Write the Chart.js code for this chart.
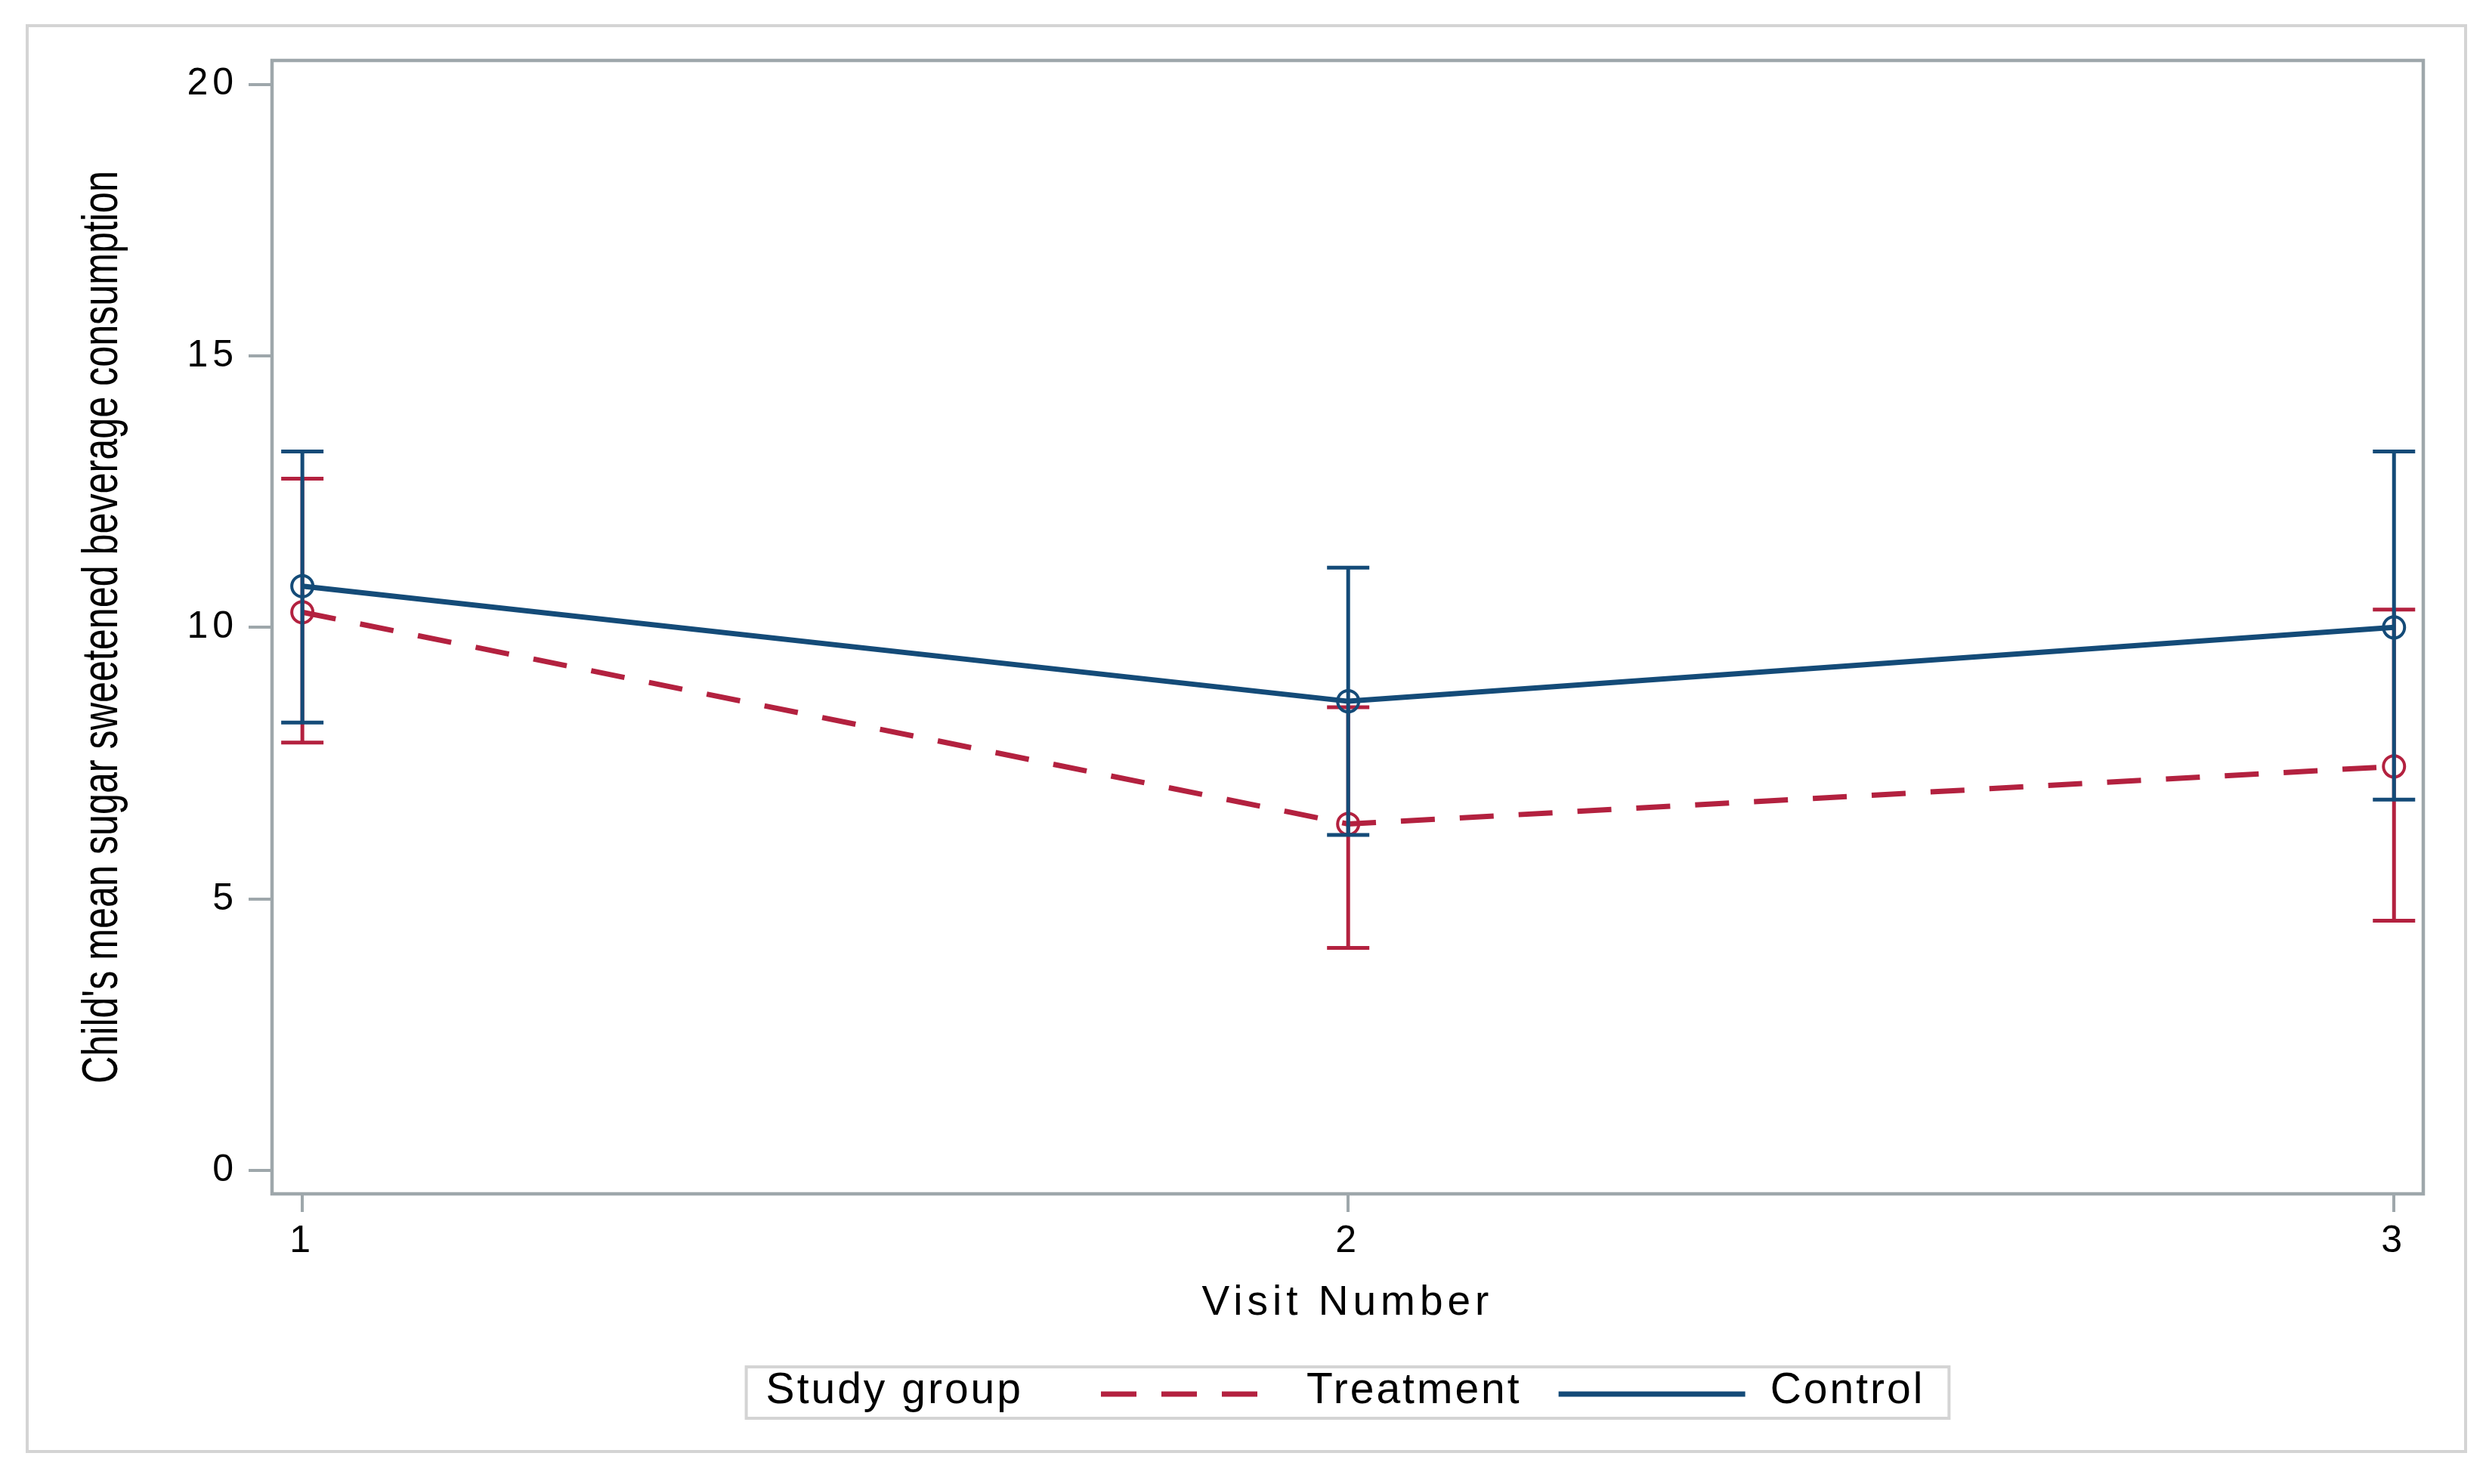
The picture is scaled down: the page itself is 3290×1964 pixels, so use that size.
<!DOCTYPE html>
<html>
<head>
<meta charset="utf-8">
<script src="https://cdn.jsdelivr.net/npm/chart.js@4.4.1/dist/chart.umd.min.js"></script>
<style>
html, body { margin: 0; padding: 0; background: #fff; }
#wrap { width: 3290px; height: 1964px; }
</style>
</head>
<body>
<div id="wrap"><canvas id="myChart" width="3290" height="1964"></canvas></div>
<script>
// values
var visits = [1, 2, 3];
var xTicks = [1, 2, 3];
var yTicks = [0, 5, 10, 15, 20];

var treatMean  = [10.28, 6.38, 7.44];
var treatLower = [7.88, 4.10, 4.60];
var treatUpper = [12.74, 8.53, 10.33];

var controlMean  = [10.76, 8.64, 10.00];
var controlLower = [8.25, 6.18, 6.83];
var controlUpper = [13.24, 11.10, 13.24];

var groupTitle = 'Study group';
var groupNames = ['Treatment', 'Control'];
var xTitle = 'Visit Number';
var yTitle = "Child's mean sugar sweetened beverage consumption";

var red = '#b3213f';
var blue = '#144b78';
var axisGray = '#9ea7ab';
var frameGray = '#d4d4d4';
var fontName = "'Liberation Sans', Arial, sans-serif";

function toPoints(xs, ys) {
    return xs.map(function (x, i) { return { x: x, y: ys[i] }; });
}

// outer frame, plot box, rotated y title and the legend
var decorations = {
    id: 'decorations',
    beforeDraw: function (chart) {
        var ctx = chart.ctx;
        ctx.letterSpacing = '6px';
        ctx.save();
        ctx.fillStyle = '#fff';
        ctx.fillRect(0, 0, chart.width, chart.height);
        ctx.strokeStyle = frameGray;
        ctx.lineWidth = 4;
        ctx.strokeRect(36, 34, 3227, 1887);
        ctx.restore();
    },
    beforeDatasetsDraw: function (chart) {
        var ctx = chart.ctx, a = chart.chartArea;
        ctx.save();
        ctx.strokeStyle = axisGray;
        ctx.lineWidth = 4.5;
        ctx.strokeRect(a.left, a.top, a.right - a.left, a.bottom - a.top);
        ctx.restore();
    },
    afterDraw: function (chart) {
        var ctx = chart.ctx, a = chart.chartArea;

        // y title (condensed like the original)
        ctx.save();
        ctx.translate(155, (a.top + a.bottom) / 2);
        ctx.rotate(-Math.PI / 2);
        ctx.scale(0.75, 1);
        ctx.letterSpacing = '0px';
        ctx.font = '67px ' + fontName;
        ctx.fillStyle = '#000';
        ctx.textAlign = 'center';
        ctx.textBaseline = 'alphabetic';
        ctx.fillText(yTitle, 0, 0);
        ctx.restore();

        // legend
        ctx.save();
        ctx.font = '57px ' + fontName;
        ctx.letterSpacing = '3px';
        ctx.fillStyle = '#000';
        ctx.textAlign = 'left';
        ctx.textBaseline = 'middle';
        var wS = ctx.measureText(groupTitle).width;
        var wT = ctx.measureText(groupNames[0]).width;
        var wC = ctx.measureText(groupNames[1]).width;
        var total = 26 + wS + 103 + 207 + 65 + wT + 49 + 247 + 33 + wC + 32;
        var left = (a.left + a.right) / 2 - total / 2;
        var top = 1809, bottom = 1877, ty = 1841, ly = 1845;
        ctx.strokeStyle = frameGray;
        ctx.lineWidth = 4;
        ctx.strokeRect(left, top, total, bottom - top);
        var x = left + 26;
        ctx.fillText(groupTitle, x, ty);
        x += wS + 103;
        ctx.strokeStyle = red;
        ctx.lineWidth = 7;
        ctx.setLineDash([47, 33]);
        ctx.beginPath(); ctx.moveTo(x, ly); ctx.lineTo(x + 207, ly); ctx.stroke();
        x += 207 + 65;
        ctx.fillText(groupNames[0], x, ty);
        x += wT + 49;
        ctx.strokeStyle = blue;
        ctx.setLineDash([]);
        ctx.beginPath(); ctx.moveTo(x, ly); ctx.lineTo(x + 247, ly); ctx.stroke();
        x += 247 + 33;
        ctx.fillText(groupNames[1], x, ty);
        ctx.restore();
    }
};

// confidence-interval whiskers, drawn just before each series
var errorBars = {
    id: 'errorBars',
    beforeDatasetDraw: function (chart, args) {
        var ds = chart.data.datasets[args.index];
        var xs = chart.scales.x, ys = chart.scales.y, ctx = chart.ctx;
        ctx.save();
        ctx.strokeStyle = ds.borderColor;
        ctx.lineWidth = 5;
        ctx.setLineDash([]);
        ds.data.forEach(function (p, i) {
            var px = xs.getPixelForValue(p.x);
            var top = ys.getPixelForValue(ds.upper[i]);
            var bot = ys.getPixelForValue(ds.lower[i]);
            ctx.beginPath();
            ctx.moveTo(px, top); ctx.lineTo(px, bot);
            ctx.moveTo(px - 28, top); ctx.lineTo(px + 28, top);
            ctx.moveTo(px - 28, bot); ctx.lineTo(px + 28, bot);
            ctx.stroke();
        });
        ctx.restore();
    }
};

function createGraph() {
    var ctx = document.getElementById('myChart').getContext('2d');

    var myChart = new Chart(ctx, {
        type: 'line',
        data: {
            datasets: [{
                label: groupNames[1],
                data: toPoints(visits, controlMean),
                lower: controlLower,
                upper: controlUpper,
                borderColor: blue,
                borderWidth: 7,
                pointStyle: 'circle',
                pointRadius: 14,
                pointBorderWidth: 4,
                pointBorderColor: blue,
                pointBackgroundColor: 'rgba(0,0,0,0)',
                tension: 0,
                fill: false,
                clip: false
            }, {
                label: groupNames[0],
                data: toPoints(visits, treatMean),
                lower: treatLower,
                upper: treatUpper,
                borderColor: red,
                borderWidth: 7,
                borderDash: [45, 33],
                pointStyle: 'circle',
                pointRadius: 14,
                pointBorderWidth: 4,
                pointBorderColor: red,
                pointBackgroundColor: 'rgba(0,0,0,0)',
                tension: 0,
                fill: false,
                clip: false
            }]
        },
        options: {
            responsive: false,
            maintainAspectRatio: false,
            animation: false,
            devicePixelRatio: 1,
            layout: { padding: { left: 0, top: 80, right: 83, bottom: 184 } },
            plugins: {
                legend: { display: false },
                tooltip: { enabled: false }
            },
            scales: {
                x: {
                    type: 'linear',
                    min: 0.971,
                    max: 3.028,
                    afterBuildTicks: function (s) { s.ticks = xTicks.map(function (v) { return { value: v }; }); },
                    afterFit: function (s) { s.height = 200; },
                    border: { display: false },
                    grid: { display: true, drawOnChartArea: false, drawTicks: true, tickLength: 24, color: axisGray, lineWidth: 4 },
                    ticks: { color: '#000', font: { family: fontName, size: 50 }, padding: 9, maxRotation: 0, autoSkip: false },
                    title: { display: true, text: xTitle, color: '#000', font: { family: fontName, size: 55 }, padding: { top: 0, bottom: 22 } }
                },
                y: {
                    min: -0.43,
                    max: 20.44,
                    afterBuildTicks: function (s) { s.ticks = yTicks.map(function (v) { return { value: v }; }); },
                    afterFit: function (s) { s.width = 360; },
                    border: { display: false },
                    grid: { display: true, drawOnChartArea: false, drawTicks: true, tickLength: 31, color: axisGray, lineWidth: 4 },
                    ticks: { color: '#000', font: { family: fontName, size: 50 }, padding: 14, autoSkip: false }
                }
            }
        },
        plugins: [decorations, errorBars]
    });
}

createGraph();
</script>
</body>
</html>
